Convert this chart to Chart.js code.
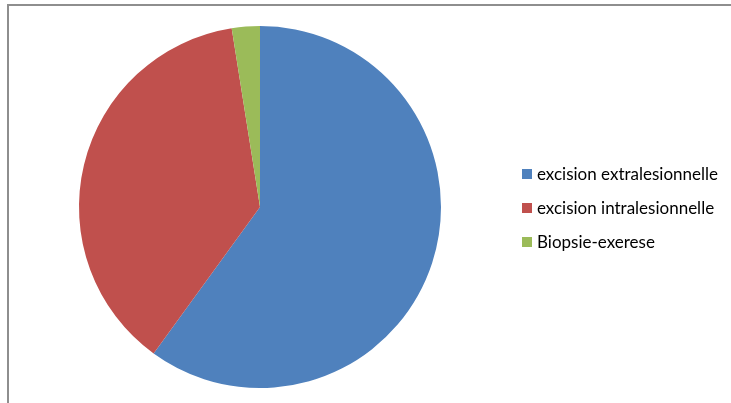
<!DOCTYPE html>
<html>
<head>
<meta charset="utf-8">
<script src="https://cdn.jsdelivr.net/npm/chart.js@4"></script>
<style>
  html, body { margin: 0; padding: 0; background: #fff; }
  #wrap { position: relative; width: 731px; height: 403px; overflow: hidden; }
  #frame {
    position: absolute; left: 7px; top: 4px; width: 800px; height: 500px;
    border-top: 2px solid #8e8e8e; border-left: 2px solid #8e8e8e;
  }
  canvas { position: absolute; left: 0; top: 0; }
</style>
</head>
<body>
<div id="wrap">
  <div id="frame"></div>
  <canvas id="pieChart" width="731" height="403"></canvas>
</div>
<script>
// Types d'exérèse
const categories = ["excision extralesionnelle", "excision intralesionnelle", "Biopsie-exerese"];
const counts = [24, 15, 1];
const colors = ["#4F81BD", "#C0504D", "#9BBB59"];

// Legend drawn on the right, one row per slice
const sideLegend = {
  id: "sideLegend",
  afterDraw(chart) {
    const c = chart.ctx;
    const labels = chart.data.labels;
    const bg = chart.data.datasets[0].backgroundColor;
    c.save();
    c.font = "17px Lato, 'Open Sans', sans-serif";
    c.textBaseline = "middle";
    labels.forEach((label, i) => {
      const y = 174 + i * 34;
      c.fillStyle = bg[i];
      c.fillRect(522, y - 5, 10, 10);
      c.fillStyle = "#000";
      c.fillText(label, 537, y + 1);
    });
    c.restore();
  },
};

const ctx = document.getElementById("pieChart").getContext("2d");
new Chart(ctx, {
  type: "pie",
  data: {
    labels: categories,
    datasets: [
      {
        data: counts,
        backgroundColor: colors,
        borderWidth: 0,
      },
    ],
  },
  options: {
    responsive: false,
    animation: false,
    layout: {
      padding: { left: 79, right: 290, top: 26, bottom: 15 },
    },
    plugins: {
      legend: { display: false },
      tooltip: { enabled: false },
    },
  },
  plugins: [sideLegend],
});
</script>
</body>
</html>
